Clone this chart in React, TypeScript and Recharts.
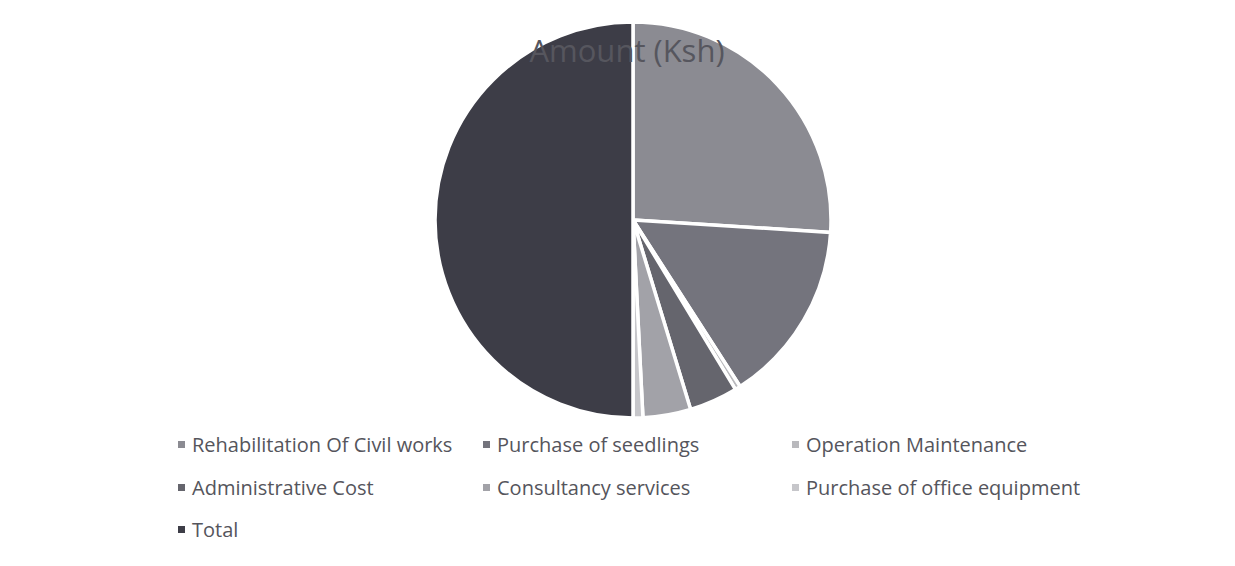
import React from 'react'
import { PieChart, Pie, Cell, Legend } from 'recharts'

const categories = [
  'Rehabilitation Of Civil works',
  'Purchase of seedlings',
  'Operation Maintenance',
  'Administrative Cost',
  'Consultancy services',
  'Purchase of office equipment',
  'Total',
]
const amounts = [2600000, 1490000, 45000, 395000, 390000, 80000, 5000000]
const sliceColors = ['#8b8b92', '#74747d', '#b9b9bd', '#65656d', '#a2a2a8', '#c6c6ca', '#3d3d47']

const data = categories.map((name, i) => ({ name, value: amounts[i] }))

// legend grid, 3 columns, items flow left to right (chart coords)
const colX = [170, 475, 784]
const rowY = [437, 480, 522]

function LegendGrid() {
  return (
    <div style={{ position: 'relative', width: 1219, height: 1 }}>
      {categories.map((name, i) => (
        <div
          key={name}
          style={{
            position: 'absolute',
            left: colX[i % 3],
            top: rowY[Math.floor(i / 3)] - 14,
            display: 'flex',
            alignItems: 'center',
            fontFamily: '"Open Sans", sans-serif',
            fontSize: 20,
            lineHeight: '27px',
            color: '#55555c',
            whiteSpace: 'nowrap',
          }}
        >
          <span
            style={{
              display: 'inline-block',
              width: 7,
              height: 7,
              background: sliceColors[i],
              marginRight: 7,
            }}
          />
          {name}
        </div>
      ))}
    </div>
  )
}

export default function App() {
  return (
    <div style={{ position: 'relative', width: 1219, height: 550, background: '#fff' }}>
      <PieChart width={1219} height={550}>
        <Pie
          data={data}
          dataKey="value"
          nameKey="name"
          cx={620}
          cy={207}
          outerRadius={198}
          startAngle={90}
          endAngle={-270}
          stroke="#ffffff"
          strokeWidth={3.5}
          isAnimationActive={false}
        >
          {data.map((d, i) => (
            <Cell key={d.name} fill={sliceColors[i]} />
          ))}
        </Pie>
        <Legend
          content={() => <LegendGrid />}
          wrapperStyle={{ position: 'absolute', left: 0, top: 0, width: 1219, height: 1 }}
        />
      </PieChart>
      <div
        style={{
          position: 'absolute',
          left: 0,
          width: 1238,
          top: 21,
          textAlign: 'center',
          fontFamily: '"Open Sans", sans-serif',
          fontSize: 31,
          lineHeight: 'normal',
          color: '#56565e',
          pointerEvents: 'none',
        }}
      >
        Amount (Ksh)
      </div>
    </div>
  )
}
